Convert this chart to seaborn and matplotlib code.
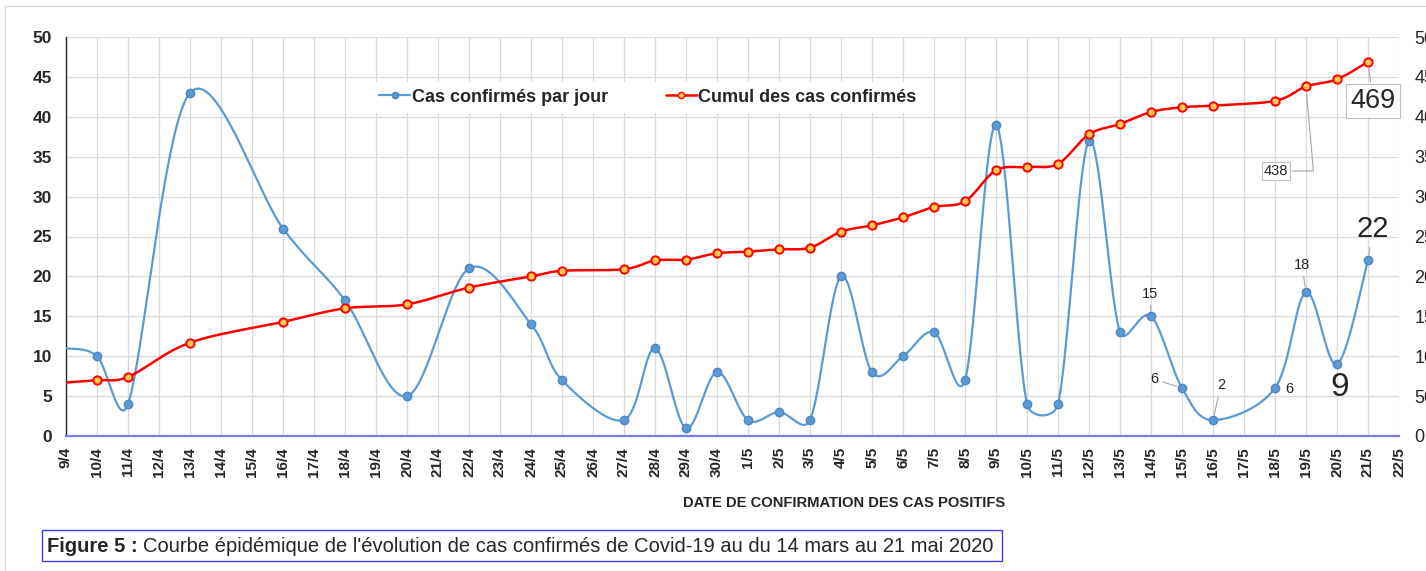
import numpy as np
import matplotlib
matplotlib.use("Agg")
import matplotlib.pyplot as plt
from matplotlib.lines import Line2D
from matplotlib.patches import Rectangle
import seaborn as sns

# data (None = no value that day)
dates = ["9/4", "10/4", "11/4", "12/4", "13/4", "14/4", "15/4", "16/4", "17/4", "18/4",
         "19/4", "20/4", "21/4", "22/4", "23/4", "24/4", "25/4", "26/4", "27/4", "28/4",
         "29/4", "30/4", "1/5", "2/5", "3/5", "4/5", "5/5", "6/5", "7/5", "8/5",
         "9/5", "10/5", "11/5", "12/5", "13/5", "14/5", "15/5", "16/5", "17/5", "18/5",
         "19/5", "20/5", "21/5", "22/5"]
daily = [11, 10, 4, None, 43, None, None, 26, None, 17,
         None, 5, None, 21, None, 14, 7, None, 2, 11,
         1, 8, 2, 3, 2, 20, 8, 10, 13, 7,
         39, 4, 4, 37, 13, 15, 6, 2, None, 6,
         18, 9, 22, None]
cumul = [67, 70, 74, None, 117, None, None, 143, None, 160,
         None, 165, None, 186, None, 200, 207, None, 209, 220,
         221, 229, 231, 234, 236, 256, 264, 274, 287, 294,
         333, 337, 341, 378, 391, 406, 412, 414, None, 420,
         438, 447, 469, None]

BLUE = "#5B9BD5"
RED = "#FF0000"
W, H = 1426, 571
AX_L, AX_R, AX_T, AX_B = 66, 1399, 37, 436


def excel_smooth(xs, ys, kx, ky, n=40):
    # excel-style bezier smoothing; kx, ky = pixels per data unit
    p = np.column_stack([xs, ys]).astype(float)
    scale = np.array([kx, ky])

    def dist(a, b):
        return np.hypot(*((a - b) * scale))

    out = []
    for i in range(len(p) - 1):
        p0 = p[i - 1] if i > 0 else p[i]
        p1, p2 = p[i], p[i + 1]
        p3 = p[i + 2] if i + 2 < len(p) else p2
        d12 = dist(p1, p2)
        d02 = dist(p0, p2)
        d13 = dist(p1, p3)
        f = 1 / 6 if d02 / 6 < d12 / 2 else d12 / (2 * d02)
        g = 1 / 6 if d13 / 6 < d12 / 2 else d12 / (2 * d13)
        c1 = p1 + f * (p2 - p0)
        c2 = p2 - g * (p3 - p1)
        t = np.linspace(0, 1, n)[:, None]
        seg = ((1 - t) ** 3 * p1 + 3 * (1 - t) ** 2 * t * c1
               + 3 * (1 - t) * t ** 2 * c2 + t ** 3 * p2)
        out.append(seg if i == 0 else seg[1:])
    out = np.vstack(out)
    return out[:, 0], out[:, 1]


sns.set_style("white")
plt.rcParams["font.family"] = ["Liberation Sans Narrow", "Liberation Sans", "DejaVu Sans"]

fig = plt.figure(figsize=(W / 100, H / 100), dpi=100)
ax = fig.add_axes([AX_L / W, 1 - AX_B / H, (AX_R - AX_L) / W, (AX_B - AX_T) / H])
ax2 = ax.twinx()

x = np.arange(len(dates))
d = np.array([np.nan if v is None else v for v in daily], float)
c = np.array([np.nan if v is None else v for v in cumul], float)
md = ~np.isnan(d)
mc = ~np.isnan(c)

kx = (AX_R - AX_L) / (len(dates) - 1)
ky_left = (AX_B - AX_T) / 50
ky_right = (AX_B - AX_T) / 500

sx, sy = excel_smooth(x[md], d[md], kx, ky_left)
sns.lineplot(x=sx, y=sy, ax=ax, sort=False, estimator=None, color=BLUE, lw=1.6, zorder=3)
ax.plot(x[md][1:], d[md][1:], "o", ms=6, mfc=BLUE, mec="#4F86C0", mew=1.0, zorder=4)

sx, sy = excel_smooth(x[mc], c[mc], kx, ky_right)
sns.lineplot(x=sx, y=sy, ax=ax2, sort=False, estimator=None, color=RED, lw=1.8, zorder=3)
ax2.plot(x[mc][1:], c[mc][1:], "o", ms=6, mfc="#FFC94D", mec=RED, mew=1.4, zorder=4)

ax.set_xlim(0, len(dates) - 1)
ax.set_ylim(0, 50)
ax2.set_ylim(0, 500)
ax.set_yticks(range(0, 51, 5))
ax2.set_yticks(range(0, 501, 50))
ax.set_xticks(x)
ax.set_xticklabels(dates, rotation=90, fontsize=11, fontweight="bold")
ax.tick_params(axis="x", length=0, pad=8)
ax.tick_params(axis="y", length=0, pad=10, labelsize=12.5)
for t in ax.get_yticklabels():
    t.set_fontweight("bold")
ax2.tick_params(axis="y", length=0, pad=11, labelsize=13)

ax.grid(True, color="#D9D9D9", lw=0.9)
ax.set_axisbelow(True)
for s in ["top", "right"]:
    ax.spines[s].set_visible(False)
    ax2.spines[s].set_visible(False)
ax2.spines["left"].set_visible(False)
ax2.spines["bottom"].set_visible(False)
ax.spines["left"].set_color("#262626")
ax.spines["left"].set_linewidth(1.0)
ax.spines["bottom"].set_color("#7B7BF0")
ax.spines["bottom"].set_linewidth(1.6)
ax.set_xlabel("")
ax.set_ylabel("")
ax2.set_ylabel("")

# data labels with grey leader lines
lead = dict(arrowstyle="-", color="#A6A6A6", lw=0.8, shrinkA=1, shrinkB=4)
box = dict(boxstyle="square,pad=0.15", fc="white", ec="#BFBFBF", lw=0.8)
i = dates.index


def px(xp, yp):
    return (xp, H - yp)


ax2.annotate(str(cumul[i("21/5")]), (i("21/5"), cumul[i("21/5")]), xytext=px(1373, 101),
             textcoords="figure pixels", ha="center", va="center", fontsize=19.5,
             bbox=box, arrowprops=lead, zorder=6)
ax2.annotate(str(cumul[i("19/5")]), (i("19/5"), cumul[i("19/5")]), xytext=px(1276, 171),
             textcoords="figure pixels", ha="center", va="center", fontsize=10.5,
             bbox=box, zorder=6,
             arrowprops=dict(lead, connectionstyle="angle,angleA=0,angleB=95,rad=0"))
ax.annotate(str(daily[i("21/5")]), (i("21/5"), daily[i("21/5")]), xytext=px(1373, 229),
            textcoords="figure pixels", ha="center", va="center", fontsize=21,
            arrowprops=lead, zorder=6)
ax.annotate(str(daily[i("20/5")]), (i("20/5"), daily[i("20/5")]), xytext=px(1340, 387),
            textcoords="figure pixels", ha="center", va="center", fontsize=24, zorder=6)
small = [("19/5", 1302, 265, True), ("14/5", 1150, 294, True), ("15/5", 1154, 379, True),
         ("16/5", 1221, 385, True), ("18/5", 1289, 389, False)]
for key, tx, ty, has_lead in small:
    ax.annotate(str(daily[i(key)]), (i(key), daily[i(key)]), xytext=px(tx, ty),
                textcoords="figure pixels", ha="center", va="center", fontsize=10.5,
                arrowprops=lead if has_lead else None, zorder=6)

# legend
handles = [
    Line2D([], [], color=BLUE, lw=1.6, marker="o", ms=4.5, mfc=BLUE, mec="#4F86C0"),
    Line2D([], [], color=RED, lw=1.8, marker="o", ms=4.5, mfc="#FFC94D", mec=RED),
]
leg = ax2.legend(handles, ["Cas confirmés par jour", "Cumul des cas confirmés"],
                 loc="center", bbox_to_anchor=(648 / W, 1 - 97 / H),
                 bbox_transform=fig.transFigure, ncol=2, frameon=True,
                 prop={"weight": "bold", "size": 13}, handlelength=1.7,
                 handletextpad=0.1, columnspacing=3.2, borderpad=0.35, fancybox=False)
leg.get_frame().set_edgecolor("white")
leg.get_frame().set_facecolor("white")
leg.get_frame().set_alpha(1)

fig.text(844 / W, 1 - 503 / H, "DATE DE CONFIRMATION DES CAS POSITIFS",
         ha="center", va="center", fontsize=10.6, fontweight="bold")

# outer chart border
fig.patches.append(Rectangle((5 / W, -0.05), 1.2, 1.05 - 6 / H, transform=fig.transFigure,
                             fill=False, ec="#D9D9D9", lw=1.0))

# caption box
fig.patches.append(Rectangle((42 / W, 1 - 561 / H), (1002 - 42) / W, 31 / H,
                             transform=fig.transFigure, fill=False, ec="#3B3BF5", lw=1.0))
t1 = fig.text(47 / W, 1 - 546 / H, "Figure 5 :", ha="left", va="center",
              fontsize=14.5, fontweight="bold")
fig.canvas.draw()
bb = t1.get_window_extent()
fig.text(bb.x1 / W + 5 / W, 1 - 546 / H,
         "Courbe épidémique de l'évolution de cas confirmés de Covid-19 au du 14 mars au 21 mai 2020",
         ha="left", va="center", fontsize=14.5)

fig.savefig("out.png", dpi=100)
